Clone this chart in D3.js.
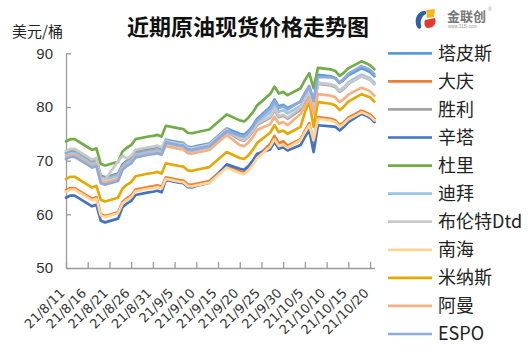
<!DOCTYPE html>
<html>
<head>
<meta charset="utf-8">
<script src="https://cdn.jsdelivr.net/npm/d3@7"></script>
<style>
  body { margin: 0; background: #fff; }
  svg { display: block; }
</style>
</head>
<body>
<div id="chart"></div>
<script>
// 近期原油现货价格走势图 (美元/桶)
const dates = [
  "2021-08-11","2021-08-12","2021-08-13","2021-08-16","2021-08-17","2021-08-18","2021-08-19","2021-08-20",
  "2021-08-23","2021-08-24","2021-08-25","2021-08-26","2021-08-27","2021-08-30","2021-08-31","2021-09-01",
  "2021-09-02","2021-09-03","2021-09-06","2021-09-07","2021-09-08","2021-09-09","2021-09-10","2021-09-13",
  "2021-09-14","2021-09-15","2021-09-16","2021-09-17","2021-09-20","2021-09-21","2021-09-22","2021-09-23",
  "2021-09-24","2021-09-27","2021-09-28","2021-09-29","2021-09-30","2021-10-01","2021-10-04","2021-10-05",
  "2021-10-06","2021-10-07","2021-10-08","2021-10-11","2021-10-12","2021-10-13","2021-10-14","2021-10-15",
  "2021-10-18","2021-10-19","2021-10-20","2021-10-21"
];

const tapis = [71.4,71.8,71.8,70.3,69.8,70.1,67.2,66.9,67.6,69.3,70.0,70.5,71.6,72.1,72.2,72.4,72.1,73.9,73.4,73.3,72.6,72.5,72.7,73.2,73.9,74.6,75.3,76.0,75.0,74.8,75.5,76.5,77.8,80.0,81.4,80.1,80.4,79.8,81.0,82.5,83.8,81.0,86.0,85.7,85.4,84.5,85.1,85.9,87.2,86.9,86.5,85.7];
const daqing = [64.5,64.9,64.9,63.4,62.9,63.2,60.0,59.7,60.4,62.3,63.0,63.5,64.6,65.1,65.2,65.4,65.1,66.9,66.4,66.3,65.6,65.5,65.7,66.2,66.9,67.6,68.3,69.0,68.0,67.8,68.5,69.5,70.8,73.1,74.6,73.2,73.6,72.8,74.0,75.6,77.0,73.5,78.1,77.8,77.5,76.6,77.2,78.0,79.3,79.0,78.6,77.8];
const shengli = [71.6,72.0,72.0,70.5,70.0,70.3,67.0,66.7,67.4,69.1,69.8,70.3,71.4,71.9,72.0,72.2,71.9,73.3,72.8,72.7,72.0,71.9,72.1,72.6,73.3,74.0,74.7,75.4,73.9,73.7,74.4,75.4,76.7,78.0,79.4,78.1,78.4,77.8,79.5,81.0,82.3,79.5,84.3,84.0,83.7,82.8,83.4,84.3,85.7,85.4,85.1,84.3];
const cinta = [63.1,63.5,63.5,62.0,61.5,61.8,58.8,58.5,59.2,61.3,62.0,62.5,63.6,64.1,64.2,64.4,64.1,66.4,65.9,65.8,65.1,65.0,65.3,65.9,66.7,67.5,68.4,69.3,68.5,68.3,69.0,70.0,71.3,72.1,73.5,72.2,72.5,71.9,72.9,74.4,75.7,71.6,76.6,76.4,76.3,75.6,76.3,77.2,78.7,78.4,78.0,77.2];
const duri = [73.6,74.0,74.0,72.5,72.0,72.3,69.4,69.1,69.8,71.7,72.4,72.9,74.0,74.5,74.6,74.8,74.5,76.5,76.0,75.9,75.2,75.1,75.3,75.8,76.5,77.2,77.9,78.6,77.5,77.3,78.0,79.0,80.3,82.4,83.8,82.5,82.8,82.2,83.5,85.0,86.3,83.5,87.3,87.0,86.7,85.8,86.4,87.2,88.5,88.2,87.8,87.0];
const dubai = [71.0,71.4,71.4,69.9,69.4,69.7,66.8,66.5,67.2,68.8,69.5,70.0,71.1,71.6,71.7,71.9,71.6,73.2,72.7,72.6,71.9,71.8,72.0,72.5,73.2,73.9,74.6,75.3,74.3,74.1,74.8,75.8,77.1,79.0,80.4,79.1,79.4,78.8,80.2,81.7,83.0,80.2,84.5,84.2,83.9,83.0,83.7,84.6,86.0,85.7,85.3,84.5];
const brentDtd = [71.8,72.2,72.2,70.7,70.2,70.5,66.6,66.5,69.9,70.9,70.4,70.9,72.0,72.5,72.6,72.8,72.5,73.7,73.2,73.1,72.4,72.3,72.5,73.0,73.7,74.4,75.1,75.8,74.1,73.9,74.6,75.6,76.9,78.2,79.6,78.3,78.6,78.0,79.9,81.4,82.7,79.9,84.5,84.2,83.9,83.0,83.6,84.4,85.7,85.4,85.0,84.2];
const nanhai = [64.2,64.6,64.6,63.1,62.6,62.9,59.8,59.5,60.2,62.0,62.7,63.2,64.3,64.8,64.9,65.1,64.8,66.6,66.1,66.0,65.3,65.2,65.4,65.9,66.6,67.3,68.0,68.7,67.7,67.5,68.2,69.2,70.5,72.6,74.0,72.7,73.0,72.4,73.8,75.3,76.6,73.8,77.8,77.5,77.2,76.3,76.9,77.7,79.0,78.7,78.3,77.5];
const minas = [66.6,67.0,67.0,65.5,65.0,65.3,62.7,62.4,63.1,64.8,65.5,66.0,67.1,67.6,67.7,67.9,67.6,69.5,69.0,68.9,68.2,68.1,68.3,68.8,69.5,70.2,70.9,71.6,70.5,70.3,71.0,72.0,73.3,75.2,76.6,75.3,75.6,75.0,76.3,79.0,81.0,76.3,80.9,80.6,80.3,79.4,80.1,81.0,82.4,82.1,81.8,81.0];
const oman = [70.6,71.0,71.0,69.5,69.0,69.3,66.2,65.9,66.6,68.4,69.1,69.6,70.7,71.2,71.3,71.5,71.2,72.7,72.2,72.1,71.4,71.3,71.5,72.0,72.7,73.4,74.1,74.8,72.9,72.7,73.4,74.4,75.7,76.8,78.2,76.9,77.2,76.6,78.7,80.2,81.5,78.7,82.4,82.1,81.8,80.9,81.5,82.3,83.6,83.3,82.9,82.1];
const espo = [70.3,70.7,70.7,69.2,68.7,69.0,65.8,65.5,66.2,68.3,69.0,69.5,70.6,71.1,71.2,71.4,71.1,73.4,72.9,72.8,72.1,72.0,72.2,72.7,73.4,74.1,74.8,75.5,74.7,74.5,75.2,76.2,77.5,79.7,81.1,79.8,80.1,79.5,81.1,82.6,83.9,81.1,85.6,85.5,85.3,84.5,85.3,86.2,87.6,87.3,86.9,86.1];

const seriesNames = ["塔皮斯","大庆","胜利","辛塔","杜里","迪拜","布伦特Dtd","南海","米纳斯","阿曼","ESPO"];
const seriesValues = [tapis, daqing, shengli, cinta, duri, dubai, brentDtd, nanhai, minas, oman, espo];
const colors = ["#5B9BD5","#ED7D31","#A5A5A5","#4472C4","#70AD47","#9DC3E6","#C9C9C9","#FFD596","#E5A905","#F4B183","#8FAADC"];

const yTicks = [50, 60, 70, 80, 90];
const xTicks = ["2021-08-11","2021-08-16","2021-08-21","2021-08-26","2021-08-31","2021-09-05","2021-09-10",
  "2021-09-15","2021-09-20","2021-09-25","2021-09-30","2021-10-05","2021-10-10","2021-10-15","2021-10-20"];

const width = 531, height = 354;
const parse = d3.timeParse("%Y-%m-%d");
const fmt = d3.timeFormat("%y/%-m/%-d");
const tickFont = "'Liberation Sans', Arial, sans-serif";
const cjkFont = "'Noto Sans CJK SC', sans-serif";

const svg = d3.select("#chart").append("svg")
  .attr("width", width)
  .attr("height", height);

const x = d3.scaleTime()
  .domain([parse("2021-08-11"), parse("2021-10-21")])
  .range([66, 374.4]);

const y = d3.scaleLinear()
  .domain([50, 90])
  .range([268, 53.3]);

// 标题和单位
svg.append("text")
  .attr("x", 248).attr("y", 35)
  .attr("text-anchor", "middle")
  .attr("font-family", cjkFont)
  .attr("font-weight", "bold")
  .attr("font-size", 22)
  .attr("fill", "#111")
  .text("近期原油现货价格走势图");

svg.append("text")
  .attr("x", 12).attr("y", 37)
  .attr("font-family", cjkFont)
  .attr("font-size", 15)
  .attr("fill", "#222")
  .text("美元/桶");

// 坐标轴
const xAxis = svg.append("g")
  .attr("transform", `translate(0,${y(50)})`)
  .call(d3.axisBottom(x)
    .tickValues(xTicks.map(parse))
    .tickSizeInner(-6)
    .tickSizeOuter(0)
    .tickFormat(fmt));

xAxis.select(".domain").attr("stroke", "#9b9b9b").attr("stroke-width", 1.3);
xAxis.selectAll(".tick line").attr("stroke", "#9b9b9b").attr("stroke-width", 1.3);
xAxis.selectAll(".tick text")
  .attr("font-family", "'DejaVu Sans', sans-serif")
  .attr("font-size", 13)
  .attr("fill", "#333")
  .attr("text-anchor", "end")
  .attr("y", null).attr("dy", null)
  .attr("transform", "translate(-1,26) rotate(-45)");

const yAxis = svg.append("g")
  .attr("transform", `translate(${x(parse("2021-08-11"))},0)`)
  .call(d3.axisLeft(y)
    .tickValues(yTicks)
    .tickSizeInner(-5)
    .tickSizeOuter(0)
    .tickPadding(13));

yAxis.select(".domain").attr("stroke", "#9b9b9b").attr("stroke-width", 1.3);
yAxis.selectAll(".tick line").attr("stroke", "#9b9b9b").attr("stroke-width", 1.3);
yAxis.selectAll(".tick text")
  .attr("font-family", tickFont)
  .attr("font-size", 15)
  .attr("fill", "#333");

// 折线
const line = d3.line()
  .x((d, i) => x(parse(dates[i])))
  .y(d => y(d));

svg.append("g")
  .selectAll("path")
  .data(seriesValues)
  .join("path")
  .attr("d", line)
  .attr("fill", "none")
  .attr("stroke", (d, i) => colors[i])
  .attr("stroke-width", 2.7)
  .attr("stroke-linejoin", "round")
  .attr("stroke-linecap", "round");

// 图例
const legend = svg.append("g")
  .selectAll("g")
  .data(seriesNames)
  .join("g")
  .attr("transform", (d, i) => `translate(388,${53.3 + i * 28.07})`);

legend.append("line")
  .attr("x1", 0).attr("x2", 44)
  .attr("stroke", (d, i) => colors[i])
  .attr("stroke-width", 2.7);

legend.append("text")
  .attr("x", 50)
  .attr("dy", "0.36em")
  .attr("font-family", cjkFont)
  .attr("font-size", 18)
  .attr("fill", "#222")
  .text(d => d);

// 金联创 logo
const logo = svg.append("g").attr("transform", "translate(414,7)");
logo.append("path")
  .attr("d", "M9,4 C2,6 0,14 3,20 C5,23 8,22 7,18 C6,13 8,9 12,7 C13,5 11,3 9,4 Z")
  .attr("fill", "#2E5FAA");
logo.append("path")
  .attr("d", "M12,3 L21,2 L20,10 L13,11 Z")
  .attr("fill", "#F5B617");
logo.append("path")
  .attr("d", "M11,13 L21,11 C23,16 20,21 13,21 C10,19 10,16 11,13 Z")
  .attr("fill", "#E23A2E");
logo.append("text")
  .attr("x", 33).attr("y", 14)
  .attr("font-family", cjkFont)
  .attr("font-weight", "bold")
  .attr("font-size", 13)
  .attr("fill", "#777")
  .text("金联创");
logo.append("text")
  .attr("x", 34).attr("y", 21)
  .attr("font-family", tickFont)
  .attr("font-size", 4.5)
  .attr("fill", "#999")
  .text("www.315i.com");
logo.append("text")
  .attr("x", 74).attr("y", 4)
  .attr("font-family", tickFont)
  .attr("font-size", 5)
  .attr("fill", "#999")
  .text("®");
</script>
</body>
</html>
